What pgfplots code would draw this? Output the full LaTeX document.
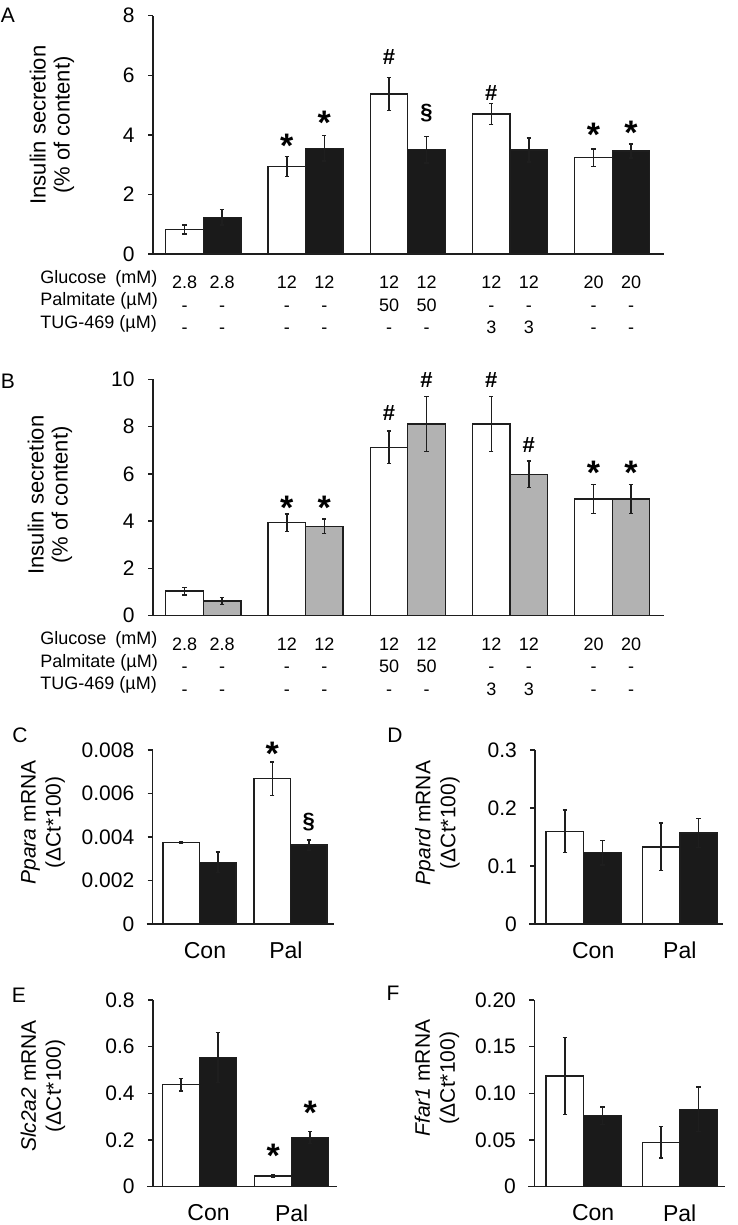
\documentclass[border=0pt]{standalone}
\usepackage{fontspec}
\setmainfont{Liberation Sans}
\usepackage{pgfplots}
\pgfplotsset{compat=1.18}
\definecolor{barblack}{RGB}{26,26,26}
\definecolor{bargrey}{RGB}{178,178,178}
\definecolor{linecol}{RGB}{30,30,30}
\pgfplotsset{
  panel/.style={
    scale only axis, clip=false,
    axis x line=bottom, axis y line=left,
    axis line style={-, line width=0.75pt, linecol},
    ymin=0, scaled y ticks=false,
    tick align=outside,
    major tick length=2.5pt,
    ytick style={line width=0.75pt, linecol},
    xtick style={draw=none},
    yticklabel style={font=\fontsize{10.5}{12}\selectfont, inner sep=0pt, xshift=-6.5pt},
  },
  tabticks/.style={
    xtick={0.8166,1.1834,1.8166,2.1834,2.8166,3.1834,3.8166,4.1834,4.8166,5.1834},
    xticklabel style={font=\fontsize{9}{11.25}\selectfont, align=center, anchor=north, yshift=-5pt},
  },
  cpticks/.style={
    xticklabels={Con,Pal},
    xticklabel style={font=\fontsize{11.5}{13}\selectfont, yshift=-3pt},
  },
  errb/.style={error bars/y dir=both, error bars/y explicit,
    error bars/error bar style={line width=0.75pt, linecol},
    error bars/error mark options={rotate=90, line width=0.75pt, mark size=1.1pt, linecol}},
  wbar/.style={ybar, bar shift=0pt, fill=white, draw=linecol, line width=0.7pt, errb},
  kbar/.style={ybar, bar shift=0pt, fill=barblack, draw=linecol, line width=0.7pt, errb},
  gbar/.style={ybar, bar shift=0pt, fill=bargrey, draw=linecol, line width=0.7pt, errb},
}
\tikzset{
  star/.style={font=\fontsize{17}{17}\selectfont\bfseries, inner sep=0pt, anchor=north},
  hash/.style={font=\fontsize{11}{11}\selectfont\bfseries, inner sep=0pt},
  sect/.style={font=\fontsize{11}{11}\selectfont\bfseries, inner sep=0pt},
  ylab/.style={rotate=90, align=center, font=\fontsize{10.5}{12.5}\selectfont},
  plab/.style={font=\fontsize{10.5}{12}\selectfont},
  rowlab/.style={anchor=base west, font=\fontsize{9}{11}\selectfont, inner sep=0pt},
}
\begin{document}
\begin{tikzpicture}
\path[use as bounding box] (0,0) rectangle (369pt,-612.5pt);

% ---------- Panel A ----------
\begin{axis}[panel, tabticks, at={(76.5pt,-127pt)}, anchor=south west,
  width=255.5pt, height=119.15pt, xmin=0.508, xmax=5.506, ymax=8,
  ytick={0,2,4,6,8}, yticklabels={0,2,4,6,8},
  x axis line style={shorten <=-2.5pt},
  xticklabels={{2.8\\-\\-},{2.8\\-\\-},{12\\-\\-},{12\\-\\-},{12\\50\\-},{12\\50\\-},{12\\-\\3},{12\\-\\3},{20\\-\\-},{20\\-\\-}}]
\addplot[wbar, bar width=0.367] coordinates {(0.8166,0.82) +- (0,0.15) (1.8166,2.94) +- (0,0.34) (2.8166,5.37) +- (0,0.56) (3.8166,4.70) +- (0,0.35) (4.8166,3.23) +- (0,0.30)};
\addplot[kbar, bar width=0.367] coordinates {(1.1834,1.23) +- (0,0.26) (2.1834,3.55) +- (0,0.43) (3.1834,3.50) +- (0,0.45) (4.1834,3.49) +- (0,0.40) (5.1834,3.46) +- (0,0.23)};
\node[star] at (axis cs:1.8166,4.03) {*};
\node[star] at (axis cs:2.1834,4.81) {*};
\node[hash] at (axis cs:2.8166,6.62) {\#};
\node[sect] at (axis cs:3.1834,4.72) {\S};
\node[hash] at (axis cs:3.8166,5.39) {\#};
\node[star] at (axis cs:4.8166,4.42) {*};
\node[star] at (axis cs:5.1834,4.47) {*};
\end{axis}

% ---------- Panel B ----------
\begin{axis}[panel, tabticks, at={(76.5pt,-307.85pt)}, anchor=south west,
  width=255.5pt, height=118.2pt, xmin=0.508, xmax=5.506, ymax=10,
  ytick={0,2,4,6,8,10}, yticklabels={0,2,4,6,8,10},
  x axis line style={shorten <=-2.5pt},
  xticklabels={{2.8\\-\\-},{2.8\\-\\-},{12\\-\\-},{12\\-\\-},{12\\50\\-},{12\\50\\-},{12\\-\\3},{12\\-\\3},{20\\-\\-},{20\\-\\-}}]
\addplot[wbar, bar width=0.367] coordinates {(0.8166,1.04) +- (0,0.16) (1.8166,3.94) +- (0,0.37) (2.8166,7.12) +- (0,0.69) (3.8166,8.11) +- (0,1.16) (4.8166,4.94) +- (0,0.62)};
\addplot[gbar, bar width=0.367] coordinates {(1.1834,0.62) +- (0,0.14) (2.1834,3.78) +- (0,0.31) (3.1834,8.11) +- (0,1.16) (4.1834,5.98) +- (0,0.56) (5.1834,4.94) +- (0,0.62)};
\node[star] at (axis cs:1.8166,5.08) {*};
\node[star] at (axis cs:2.1834,5.08) {*};
\node[hash] at (axis cs:2.8166,8.56) {\#};
\node[hash] at (axis cs:3.1834,9.97) {\#};
\node[hash] at (axis cs:3.8166,9.97) {\#};
\node[hash] at (axis cs:4.1834,7.22) {\#};
\node[star] at (axis cs:4.8166,6.56) {*};
\node[star] at (axis cs:5.1834,6.56) {*};
\end{axis}

% ---------- Panel C ----------
\begin{axis}[panel, cpticks, xtick={1.06,1.95}, at={(76.3pt,-462pt)}, anchor=south west,
  width=90.85pt, height=87pt, xmin=0.4846, xmax=2.481, ymax=0.008,
  ytick={0,0.002,0.004,0.006,0.008}, yticklabels={0,0.002,0.004,0.006,0.008},
  x axis line style={shorten <=-3pt}]
\addplot[wbar, bar width=0.401] coordinates {(0.7995,0.00374) +- (0,0.00003) (1.7995,0.00668) +- (0,0.00078)};
\addplot[kbar, bar width=0.401] coordinates {(1.2005,0.00284) +- (0,0.00047) (2.2005,0.00363) +- (0,0.00023)};
\node[star] at (axis cs:1.7995,0.00837) {*};
\node[sect] at (axis cs:2.2005,0.0047) {\S};
\end{axis}

% ---------- Panel D ----------
\begin{axis}[panel, cpticks, xtick={1.1,2.0}, at={(267.6pt,-462pt)}, anchor=south west,
  width=93.9pt, height=87pt, xmin=0.497, xmax=2.449, ymax=0.3,
  ytick={0,0.1,0.2,0.3}, yticklabels={0,0.1,0.2,0.3},
  x axis line style={shorten <=-3pt}]
\addplot[wbar, bar width=0.39] coordinates {(0.805,0.160) +- (0,0.037) (1.805,0.133) +- (0,0.041)};
\addplot[kbar, bar width=0.39] coordinates {(1.195,0.123) +- (0,0.021) (2.195,0.157) +- (0,0.025)};
\end{axis}

% ---------- Panel E ----------
\begin{axis}[panel, cpticks, xtick={1.1,2.0}, at={(76.5pt,-593.35pt)}, anchor=south west,
  width=92pt, height=93.35pt, xmin=0.499, xmax=2.49, ymax=0.8,
  ytick={0,0.2,0.4,0.6,0.8}, yticklabels={0,0.2,0.4,0.6,0.8},
  x axis line style={shorten <=-3pt}]
\addplot[wbar, bar width=0.40] coordinates {(0.8,0.437) +- (0,0.027) (1.8,0.046) +- (0,0.004)};
\addplot[kbar, bar width=0.40] coordinates {(1.2,0.554) +- (0,0.107) (2.2,0.211) +- (0,0.025)};
\node[star] at (axis cs:1.8,0.186) {*};
\node[star] at (axis cs:2.2,0.368) {*};
\end{axis}

% ---------- Panel F ----------
\begin{axis}[panel, cpticks, xtick={1.1,2.0}, at={(267.15pt,-593.35pt)}, anchor=south west,
  width=95.5pt, height=93.35pt, xmin=0.4875, xmax=2.474, ymax=0.2,
  ytick={0,0.05,0.1,0.15,0.2}, yticklabels={0,0.05,0.10,0.15,0.20},
  x axis line style={shorten <=-3pt}]
\addplot[wbar, bar width=0.39] coordinates {(0.805,0.1186) +- (0,0.041) (1.805,0.0475) +- (0,0.0168)};
\addplot[kbar, bar width=0.39] coordinates {(1.195,0.076) +- (0,0.0096) (2.195,0.083) +- (0,0.024)};
\end{axis}

% ---------- text ----------
\begin{scope}[x=0.5pt,y=-0.5pt]
\node[plab] at (8,15) {A};
\node[plab] at (8,381.5) {B};
\node[plab] at (20,735) {C};
\node[plab] at (395,735) {D};
\node[plab] at (19,995) {E};
\node[plab] at (393,993) {F};
\node[ylab, font=\fontsize{11}{12}\selectfont] at (52,125) {Insulin secretion\\(\% of content)};
\node[ylab, font=\fontsize{11}{12}\selectfont] at (50,495) {Insulin secretion\\(\% of content)};
\node[ylab] at (43,822.5) {\textit{Ppara} mRNA\\(ΔCt*100)};
\node[ylab] at (437.5,823) {\textit{Ppard} mRNA\\(ΔCt*100)};
\node[ylab] at (43,1086) {\textit{Slc2a2} mRNA\\(ΔCt*100)};
\node[ylab] at (437,1078) {\textit{Ffar1} mRNA\\(ΔCt*100)};
\node[rowlab] at (40,283) {Glucose\enspace(mM)};
\node[rowlab] at (40,305.5) {Palmitate (µM)};
\node[rowlab] at (40,328) {TUG-469 (µM)};
\node[rowlab] at (40,644.5) {Glucose\enspace(mM)};
\node[rowlab] at (40,667) {Palmitate (µM)};
\node[rowlab] at (40,689.5) {TUG-469 (µM)};
\end{scope}
\end{tikzpicture}
\end{document}
